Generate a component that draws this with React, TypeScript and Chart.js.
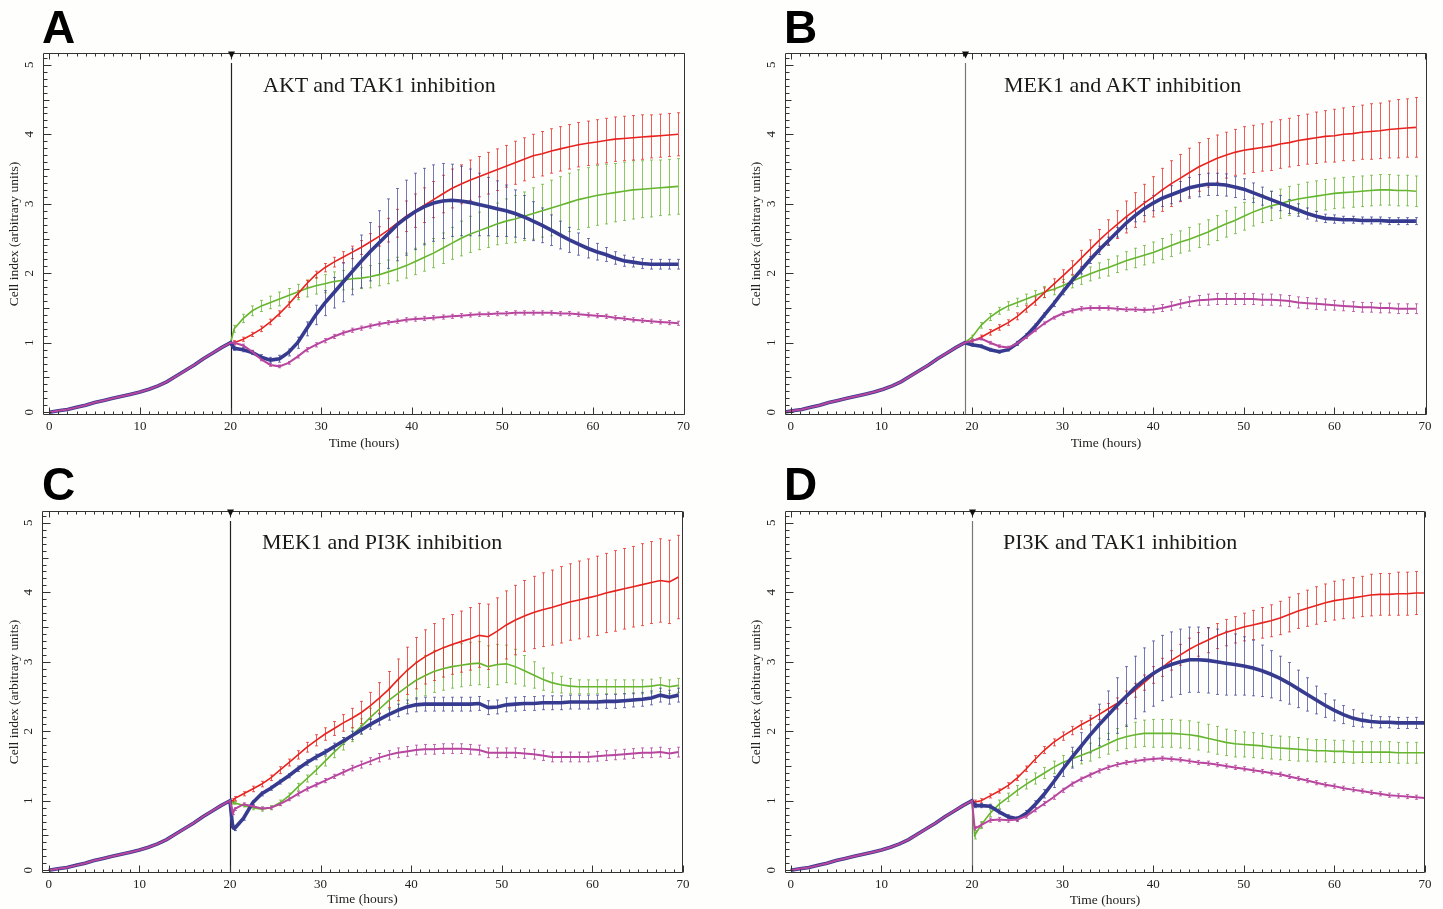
import React, { useEffect, useRef } from "react";
import { Chart, registerables } from "chart.js";
Chart.register(...registerables);

// ---------- axis ticks ----------
const xTickValues = [0, 10, 20, 30, 40, 50, 60, 70];
const yTickValues = [0, 1, 2, 3, 4, 5];

// ---------- time grids (hours) ----------
const hoursPre = [0, 1, 2, 3, 4, 5, 6, 7, 8, 9, 10, 11, 12, 13, 14, 15, 16, 17, 18, 19, 20];
const hoursPreB = [-0.8, 0.2, 1.2, 2.2, 3.2, 4.2, 5.2, 6.2, 7.2, 8.2, 9.2, 10.2, 11.2, 12.2, 13.2, 14.2, 15.2, 16.2, 17.2, 18.2, 19.2];
const hoursPostA = [
  20.4, 21.4, 22.4, 23.4, 24.4, 25.4, 26.4, 27.4, 28.4, 29.4,
  30.4, 31.4, 32.4, 33.4, 34.4, 35.4, 36.4, 37.4, 38.4, 39.4,
  40.4, 41.4, 42.4, 43.4, 44.4, 45.4, 46.4, 47.4, 48.4, 49.4,
  50.4, 51.4, 52.4, 53.4, 54.4, 55.4, 56.4, 57.4, 58.4, 59.4,
  60.4, 61.4, 62.4, 63.4, 64.4, 65.4, 66.4, 67.4, 68.4, 69.4,
];
const hoursPostB = [
  20, 21, 22, 23, 24, 25, 26, 27, 28, 29,
  30, 31, 32, 33, 34, 35, 36, 37, 38, 39,
  40, 41, 42, 43, 44, 45, 46, 47, 48, 49,
  50, 51, 52, 53, 54, 55, 56, 57, 58, 59,
  60, 61, 62, 63, 64, 65, 66, 67, 68, 69,
];
const hoursPostC = [
  20.3,
  20.5, 21.5, 22.5, 23.5, 24.5, 25.5, 26.5, 27.5, 28.5, 29.5,
  30.5, 31.5, 32.5, 33.5, 34.5, 35.5, 36.5, 37.5, 38.5, 39.5,
  40.5, 41.5, 42.5, 43.5, 44.5, 45.5, 46.5, 47.5, 48.5, 49.5,
  50.5, 51.5, 52.5, 53.5, 54.5, 55.5, 56.5, 57.5, 58.5, 59.5,
  60.5, 61.5, 62.5, 63.5, 64.5, 65.5, 66.5, 67.5, 68.5, 69.5,
];
const hoursPostD = [
  20.3,
  21, 22, 23, 24, 25, 26, 27, 28, 29, 30,
  31, 32, 33, 34, 35, 36, 37, 38, 39, 40,
  41, 42, 43, 44, 45, 46, 47, 48, 49, 50,
  51, 52, 53, 54, 55, 56, 57, 58, 59, 60,
  61, 62, 63, 64, 65, 66, 67, 68, 69, 70,
];

// ---------- common growth before treatment ----------
const preGrowth = [0.0, 0.02, 0.04, 0.07, 0.1, 0.14, 0.17, 0.2, 0.23, 0.26, 0.29, 0.33, 0.38, 0.44, 0.52, 0.6, 0.68, 0.77, 0.85, 0.93, 1.0];

// ---------- Panel A: AKT and TAK1 ----------
const redA = [1.0, 1.05, 1.12, 1.2, 1.3, 1.42, 1.55, 1.7, 1.85, 1.98, 2.08, 2.16, 2.23, 2.3, 2.37, 2.45, 2.53, 2.62, 2.72, 2.82, 2.9, 2.98, 3.06, 3.14, 3.22, 3.28, 3.34, 3.39, 3.44, 3.49, 3.54, 3.59, 3.64, 3.69, 3.72, 3.76, 3.79, 3.82, 3.85, 3.87, 3.89, 3.91, 3.93, 3.94, 3.95, 3.96, 3.97, 3.98, 3.99, 4.0];
const redAErr = [0.03, 0.03, 0.03, 0.04, 0.04, 0.04, 0.04, 0.05, 0.05, 0.05, 0.06, 0.07, 0.08, 0.09, 0.1, 0.12, 0.14, 0.17, 0.2, 0.22, 0.24, 0.25, 0.26, 0.27, 0.28, 0.28, 0.29, 0.29, 0.3, 0.3, 0.3, 0.31, 0.31, 0.31, 0.32, 0.32, 0.32, 0.32, 0.32, 0.32, 0.32, 0.32, 0.32, 0.32, 0.32, 0.32, 0.31, 0.31, 0.31, 0.31];
const greenA = [1.2, 1.35, 1.46, 1.53, 1.58, 1.63, 1.68, 1.73, 1.78, 1.82, 1.85, 1.88, 1.9, 1.92, 1.93, 1.95, 1.98, 2.02, 2.06, 2.11, 2.17, 2.23, 2.29, 2.36, 2.43, 2.5, 2.56, 2.61, 2.66, 2.71, 2.75, 2.78, 2.82, 2.86, 2.9, 2.94, 2.98, 3.02, 3.06, 3.09, 3.12, 3.14, 3.16, 3.18, 3.2, 3.21, 3.22, 3.23, 3.24, 3.25];
const greenAErr = [0.05, 0.06, 0.07, 0.08, 0.09, 0.1, 0.1, 0.11, 0.12, 0.12, 0.13, 0.14, 0.14, 0.15, 0.15, 0.16, 0.16, 0.17, 0.17, 0.18, 0.19, 0.2, 0.21, 0.22, 0.23, 0.25, 0.26, 0.27, 0.29, 0.3, 0.32, 0.34, 0.35, 0.37, 0.38, 0.4, 0.41, 0.42, 0.43, 0.43, 0.43, 0.43, 0.42, 0.42, 0.42, 0.41, 0.41, 0.4, 0.4, 0.4];
const blueA = [0.92, 0.9, 0.86, 0.79, 0.75, 0.77, 0.86, 1.0, 1.2, 1.4, 1.57, 1.72, 1.87, 2.02, 2.17, 2.31, 2.44, 2.57, 2.7, 2.8, 2.89, 2.96, 3.01, 3.04, 3.05, 3.04, 3.02, 2.99, 2.96, 2.93, 2.9, 2.86, 2.81, 2.75, 2.69, 2.62, 2.55, 2.48, 2.42, 2.36, 2.31, 2.27, 2.22, 2.18, 2.16, 2.14, 2.13, 2.13, 2.13, 2.13];
const blueAErr = [0.03, 0.03, 0.03, 0.04, 0.04, 0.05, 0.05, 0.08, 0.1, 0.14, 0.18, 0.22, 0.28, 0.33, 0.38, 0.42, 0.46, 0.5, 0.52, 0.54, 0.55, 0.55, 0.55, 0.54, 0.52, 0.5, 0.48, 0.45, 0.42, 0.4, 0.37, 0.34, 0.31, 0.28, 0.25, 0.22, 0.2, 0.18, 0.16, 0.14, 0.12, 0.1, 0.09, 0.08, 0.07, 0.07, 0.07, 0.07, 0.07, 0.07];
const magentaA = [1.0, 0.96, 0.87, 0.76, 0.68, 0.66, 0.71, 0.8, 0.9, 0.97, 1.03, 1.09, 1.14, 1.18, 1.21, 1.24, 1.27, 1.29, 1.31, 1.33, 1.34, 1.35, 1.36, 1.37, 1.38, 1.39, 1.4, 1.41, 1.41, 1.42, 1.42, 1.43, 1.43, 1.43, 1.43, 1.43, 1.42, 1.42, 1.41, 1.4, 1.39, 1.38, 1.36, 1.35, 1.33, 1.32, 1.31, 1.3, 1.29, 1.28];
const magentaAErr = [0.02, 0.02, 0.02, 0.02, 0.02, 0.02, 0.02, 0.02, 0.03, 0.03, 0.03, 0.03, 0.03, 0.03, 0.03, 0.03, 0.03, 0.03, 0.03, 0.03, 0.03, 0.03, 0.03, 0.03, 0.03, 0.03, 0.03, 0.03, 0.03, 0.03, 0.03, 0.03, 0.03, 0.03, 0.03, 0.03, 0.03, 0.03, 0.03, 0.03, 0.03, 0.03, 0.03, 0.03, 0.03, 0.03, 0.03, 0.03, 0.03, 0.03];

// ---------- Panel B: MEK1 and AKT ----------
const redB = [1.02, 1.08, 1.15, 1.22, 1.29, 1.38, 1.49, 1.6, 1.72, 1.84, 1.96, 2.08, 2.21, 2.34, 2.47, 2.59, 2.7, 2.81, 2.91, 3.01, 3.1, 3.2, 3.29, 3.37, 3.45, 3.53, 3.59, 3.65, 3.7, 3.74, 3.77, 3.79, 3.81, 3.83, 3.86, 3.88, 3.91, 3.93, 3.95, 3.97, 3.98, 4.0, 4.01, 4.03, 4.04, 4.05, 4.07, 4.08, 4.09, 4.1];
const redBErr = [0.03, 0.03, 0.04, 0.04, 0.04, 0.05, 0.05, 0.06, 0.07, 0.08, 0.09, 0.1, 0.12, 0.14, 0.16, 0.18, 0.2, 0.23, 0.25, 0.27, 0.29, 0.31, 0.33, 0.34, 0.35, 0.35, 0.35, 0.34, 0.33, 0.33, 0.34, 0.34, 0.34, 0.35, 0.35, 0.35, 0.36, 0.36, 0.37, 0.37, 0.38, 0.38, 0.39, 0.39, 0.4, 0.4, 0.41, 0.42, 0.42, 0.43];
const greenB = [1.08, 1.25, 1.37, 1.46, 1.53, 1.58, 1.63, 1.68, 1.73, 1.77, 1.82, 1.88, 1.94, 1.99, 2.04, 2.08, 2.13, 2.18, 2.22, 2.26, 2.3, 2.35, 2.4, 2.45, 2.49, 2.54, 2.59, 2.65, 2.71, 2.76, 2.82, 2.88, 2.93, 2.97, 3.0, 3.04, 3.07, 3.09, 3.11, 3.13, 3.15, 3.16, 3.17, 3.18, 3.19, 3.2, 3.2, 3.19, 3.19, 3.18];
const greenBErr = [0.03, 0.04, 0.05, 0.05, 0.06, 0.06, 0.07, 0.07, 0.08, 0.08, 0.09, 0.09, 0.1, 0.1, 0.11, 0.12, 0.12, 0.13, 0.14, 0.14, 0.15, 0.15, 0.16, 0.16, 0.17, 0.17, 0.18, 0.18, 0.19, 0.19, 0.2, 0.2, 0.2, 0.21, 0.21, 0.21, 0.21, 0.22, 0.22, 0.22, 0.22, 0.22, 0.22, 0.22, 0.22, 0.22, 0.22, 0.22, 0.22, 0.22];
const blueB = [0.97, 0.95, 0.9, 0.87, 0.9, 0.99, 1.1, 1.24, 1.4, 1.56, 1.73, 1.89, 2.04, 2.19, 2.33, 2.46, 2.59, 2.72, 2.83, 2.93, 3.01, 3.08, 3.13, 3.18, 3.23, 3.26, 3.28, 3.28, 3.27, 3.24, 3.21, 3.16, 3.11, 3.06, 3.01, 2.96, 2.91, 2.86, 2.82, 2.79, 2.78, 2.77, 2.77, 2.76, 2.76, 2.76, 2.75, 2.75, 2.75, 2.75];
const blueBErr = [0.02, 0.02, 0.02, 0.02, 0.02, 0.03, 0.03, 0.03, 0.03, 0.04, 0.04, 0.04, 0.05, 0.05, 0.06, 0.06, 0.07, 0.08, 0.09, 0.1, 0.11, 0.12, 0.13, 0.14, 0.15, 0.16, 0.16, 0.16, 0.16, 0.15, 0.15, 0.14, 0.13, 0.12, 0.11, 0.1, 0.09, 0.08, 0.07, 0.06, 0.06, 0.05, 0.05, 0.05, 0.05, 0.05, 0.05, 0.05, 0.05, 0.05];
const magentaB = [1.03, 1.06, 1.0, 0.95, 0.93, 0.99, 1.08, 1.18, 1.28, 1.36, 1.42, 1.46, 1.49, 1.5, 1.5, 1.5, 1.49, 1.48, 1.48, 1.47, 1.48, 1.5, 1.53, 1.56, 1.59, 1.61, 1.62, 1.63, 1.63, 1.63, 1.63, 1.63, 1.62, 1.62, 1.61, 1.6, 1.58, 1.57, 1.56, 1.55, 1.54, 1.53, 1.52, 1.51, 1.51, 1.5, 1.5, 1.49, 1.49, 1.49];
const magentaBErr = [0.02, 0.02, 0.02, 0.02, 0.02, 0.02, 0.02, 0.02, 0.02, 0.02, 0.03, 0.03, 0.03, 0.03, 0.03, 0.03, 0.03, 0.03, 0.03, 0.03, 0.05, 0.05, 0.06, 0.06, 0.07, 0.07, 0.08, 0.08, 0.08, 0.08, 0.08, 0.08, 0.08, 0.08, 0.08, 0.08, 0.08, 0.08, 0.08, 0.08, 0.07, 0.07, 0.07, 0.07, 0.07, 0.07, 0.07, 0.07, 0.07, 0.07];

// ---------- Panel C: MEK1 and PI3K ----------
const redC = [1.0, 1.03, 1.1, 1.17, 1.24, 1.33, 1.44, 1.55, 1.66, 1.77, 1.87, 1.96, 2.04, 2.12, 2.19, 2.27, 2.37, 2.48, 2.6, 2.74, 2.87, 2.98, 3.07, 3.14, 3.2, 3.25, 3.29, 3.33, 3.38, 3.36, 3.44, 3.53, 3.6, 3.66, 3.71, 3.75, 3.78, 3.82, 3.86, 3.89, 3.92, 3.95, 3.99, 4.02, 4.05, 4.08, 4.11, 4.14, 4.17, 4.15, 4.22];
const redCErr = [0.03, 0.03, 0.03, 0.04, 0.04, 0.04, 0.05, 0.05, 0.06, 0.07, 0.08, 0.09, 0.1, 0.12, 0.14, 0.16, 0.19, 0.22, 0.26, 0.3, 0.34, 0.37, 0.39, 0.41, 0.42, 0.43, 0.44, 0.45, 0.46, 0.47, 0.48, 0.49, 0.5, 0.51, 0.52, 0.53, 0.54, 0.55, 0.55, 0.56, 0.56, 0.57, 0.57, 0.58, 0.58, 0.58, 0.59, 0.59, 0.6, 0.6, 0.6];
const greenC = [0.97, 0.97, 0.93, 0.9, 0.88, 0.9, 0.97, 1.07, 1.2, 1.32, 1.44, 1.57, 1.7, 1.82, 1.95, 2.07, 2.2, 2.32, 2.44, 2.54, 2.64, 2.73, 2.8, 2.86, 2.9, 2.93, 2.95, 2.97, 2.98, 2.93, 2.96, 2.97, 2.93, 2.87, 2.81, 2.75, 2.7, 2.67, 2.65, 2.64, 2.64, 2.64, 2.64, 2.64, 2.64, 2.64, 2.64, 2.65, 2.67, 2.64, 2.66];
const greenCErr = [0.02, 0.02, 0.02, 0.03, 0.03, 0.03, 0.04, 0.04, 0.05, 0.05, 0.06, 0.07, 0.08, 0.09, 0.1, 0.11, 0.13, 0.15, 0.18, 0.21, 0.24, 0.27, 0.29, 0.3, 0.31, 0.31, 0.31, 0.31, 0.31, 0.3, 0.29, 0.27, 0.25, 0.22, 0.19, 0.16, 0.14, 0.12, 0.11, 0.1, 0.1, 0.1, 0.1, 0.1, 0.1, 0.1, 0.1, 0.1, 0.1, 0.1, 0.1];
const blueC = [0.62, 0.6, 0.75, 0.97, 1.1, 1.18, 1.27, 1.36, 1.46, 1.55, 1.63, 1.7, 1.78, 1.86, 1.94, 2.02, 2.1, 2.17, 2.24, 2.3, 2.35, 2.38, 2.39, 2.39, 2.39, 2.39, 2.39, 2.39, 2.4, 2.34, 2.35, 2.38, 2.39, 2.4, 2.4, 2.41, 2.41, 2.41, 2.42, 2.42, 2.42, 2.42, 2.43, 2.43, 2.44, 2.45, 2.46, 2.48, 2.52, 2.49, 2.52];
const blueCErr = [0.03, 0.03, 0.03, 0.03, 0.03, 0.03, 0.03, 0.03, 0.04, 0.04, 0.04, 0.04, 0.05, 0.05, 0.06, 0.06, 0.07, 0.08, 0.08, 0.09, 0.1, 0.1, 0.1, 0.1, 0.1, 0.1, 0.1, 0.1, 0.1, 0.1, 0.1, 0.1, 0.1, 0.1, 0.1, 0.1, 0.1, 0.1, 0.1, 0.1, 0.1, 0.1, 0.1, 0.1, 0.1, 0.1, 0.1, 0.1, 0.1, 0.1, 0.1];
const magentaC = [0.82, 0.88, 0.95, 0.92, 0.89, 0.9, 0.95, 1.02, 1.1, 1.17, 1.23, 1.29, 1.35, 1.41, 1.47, 1.52, 1.57, 1.62, 1.66, 1.69, 1.71, 1.73, 1.74, 1.74, 1.75, 1.75, 1.75, 1.74, 1.73, 1.69, 1.69, 1.69, 1.69, 1.68, 1.67, 1.65, 1.63, 1.63, 1.63, 1.63, 1.63, 1.64, 1.65, 1.66, 1.67, 1.68, 1.69, 1.69, 1.7, 1.68, 1.7];
const magentaCErr = [0.02, 0.02, 0.02, 0.02, 0.02, 0.02, 0.02, 0.02, 0.03, 0.03, 0.03, 0.03, 0.03, 0.04, 0.04, 0.05, 0.05, 0.06, 0.06, 0.07, 0.07, 0.07, 0.07, 0.07, 0.07, 0.07, 0.07, 0.07, 0.07, 0.07, 0.07, 0.07, 0.07, 0.07, 0.07, 0.07, 0.07, 0.07, 0.07, 0.07, 0.07, 0.07, 0.07, 0.07, 0.07, 0.07, 0.07, 0.07, 0.07, 0.07, 0.07];

// ---------- Panel D: PI3K and TAK1 ----------
const redD = [0.98, 1.0, 1.07, 1.14, 1.22, 1.33, 1.46, 1.6, 1.73, 1.84, 1.93, 2.01, 2.09, 2.16, 2.24, 2.32, 2.4, 2.49, 2.59, 2.7, 2.81, 2.92, 3.02, 3.1, 3.18, 3.25, 3.31, 3.37, 3.42, 3.46, 3.5, 3.53, 3.56, 3.59, 3.63, 3.68, 3.73, 3.77, 3.81, 3.85, 3.88, 3.9, 3.92, 3.94, 3.96, 3.97, 3.97, 3.98, 3.98, 3.99, 3.99];
const redDErr = [0.03, 0.03, 0.03, 0.03, 0.04, 0.04, 0.04, 0.05, 0.05, 0.05, 0.06, 0.06, 0.06, 0.07, 0.07, 0.08, 0.08, 0.09, 0.1, 0.11, 0.12, 0.13, 0.14, 0.15, 0.16, 0.17, 0.18, 0.18, 0.19, 0.19, 0.2, 0.21, 0.22, 0.23, 0.24, 0.25, 0.25, 0.26, 0.27, 0.27, 0.28, 0.28, 0.29, 0.29, 0.3, 0.3, 0.3, 0.31, 0.31, 0.31, 0.31];
const greenD = [0.5, 0.65, 0.82, 0.95, 1.05, 1.15, 1.24, 1.32, 1.4, 1.48, 1.55, 1.6, 1.65, 1.7, 1.76, 1.82, 1.88, 1.92, 1.95, 1.97, 1.97, 1.97, 1.97, 1.96, 1.95, 1.93, 1.9, 1.87, 1.84, 1.82, 1.81, 1.8, 1.79, 1.77, 1.76, 1.75, 1.74, 1.73, 1.72, 1.72, 1.71, 1.71, 1.7, 1.7, 1.7, 1.7, 1.7, 1.69, 1.69, 1.69, 1.69];
const greenDErr = [0.05, 0.05, 0.05, 0.06, 0.06, 0.07, 0.07, 0.08, 0.08, 0.09, 0.1, 0.11, 0.12, 0.13, 0.14, 0.15, 0.16, 0.17, 0.18, 0.19, 0.2, 0.2, 0.2, 0.2, 0.2, 0.2, 0.2, 0.2, 0.19, 0.19, 0.18, 0.18, 0.18, 0.17, 0.17, 0.17, 0.17, 0.16, 0.16, 0.16, 0.16, 0.16, 0.16, 0.15, 0.15, 0.15, 0.15, 0.15, 0.15, 0.15, 0.15];
const blueD = [0.93, 0.93, 0.92, 0.84, 0.77, 0.74, 0.82, 0.95, 1.1, 1.27, 1.45, 1.62, 1.78, 1.94, 2.09, 2.23, 2.37, 2.5, 2.63, 2.74, 2.83, 2.91, 2.96, 3.0, 3.03, 3.03, 3.02, 3.0, 2.98, 2.96, 2.94, 2.91, 2.87, 2.82, 2.76, 2.69, 2.61, 2.53, 2.45, 2.37, 2.3, 2.24, 2.19, 2.16, 2.14, 2.13, 2.13, 2.12, 2.12, 2.12, 2.12];
const blueDErr = [0.03, 0.03, 0.03, 0.03, 0.03, 0.03, 0.04, 0.05, 0.06, 0.08, 0.1, 0.15, 0.2, 0.25, 0.3, 0.35, 0.4, 0.43, 0.45, 0.46, 0.47, 0.47, 0.47, 0.47, 0.47, 0.47, 0.47, 0.47, 0.46, 0.44, 0.42, 0.4, 0.37, 0.34, 0.32, 0.3, 0.27, 0.24, 0.2, 0.17, 0.15, 0.13, 0.12, 0.1, 0.09, 0.08, 0.08, 0.08, 0.08, 0.08, 0.08];
const magentaD = [0.6, 0.65, 0.72, 0.73, 0.72, 0.73, 0.78, 0.87, 0.96, 1.05, 1.15, 1.24, 1.31, 1.37, 1.43, 1.48, 1.52, 1.55, 1.57, 1.59, 1.6, 1.61, 1.6, 1.59, 1.57, 1.55, 1.54, 1.52, 1.5, 1.48, 1.46, 1.44, 1.42, 1.4, 1.38, 1.35, 1.32, 1.29, 1.26, 1.23, 1.21, 1.18, 1.16, 1.14, 1.12, 1.1, 1.08, 1.07, 1.06, 1.05, 1.04];
const magentaDErr = [0.03, 0.03, 0.03, 0.03, 0.03, 0.03, 0.03, 0.03, 0.03, 0.03, 0.03, 0.03, 0.03, 0.03, 0.03, 0.03, 0.03, 0.03, 0.03, 0.03, 0.03, 0.03, 0.03, 0.03, 0.03, 0.03, 0.03, 0.03, 0.03, 0.03, 0.03, 0.03, 0.03, 0.03, 0.03, 0.03, 0.03, 0.03, 0.03, 0.03, 0.03, 0.03, 0.03, 0.03, 0.03, 0.03, 0.03, 0.03, 0.03, 0.03, 0.03];

// ---------- styles ----------
const RED = { line: "#e8231f", bar: "rgba(232,40,36,0.75)", width: 1.6 };
const GREEN = { line: "#66b52e", bar: "rgba(104,180,50,0.75)", width: 1.6 };
const BLUE = { line: "#363b8f", bar: "rgba(60,64,150,0.7)", width: 3.6 };
const MAGENTA = { line: "#b8469f", bar: "rgba(184,70,160,0.8)", width: 2 };

const SERIF = '"Liberation Serif", "Times New Roman", serif';
const SANS = '"Liberation Sans", Arial, sans-serif';
const BG = "#fefefc";

type Series = { style: typeof RED; post: number[]; err: number[] };
type PanelCfg = {
  id: string;
  title: string;
  canvas: { left: number; top: number; w: number; h: number };
  pad: { left: number; right: number; top: number; bottom: number };
  yWidth: number;
  xHeight: number;
  xMin: number;
  xMax: number;
  treat: number;
  treatColor: string;
  xTitlePad: number;
  pre: number[];
  post: number[];
  series: Series[];
  letterPos: { left: number; top: number };
  titlePos: { left: number; top: number };
};

const panels: PanelCfg[] = [
  {
    id: "A", title: "AKT and TAK1 inhibition",
    canvas: { left: 0, top: 0, w: 722, h: 455 },
    pad: { left: 0, right: 37, top: 53, bottom: 0 }, yWidth: 43, xHeight: 40,
    xMin: -0.7, xMax: 70.16, treat: 20, treatColor: "#222", xTitlePad: 3,
    pre: hoursPre, post: hoursPostA,
    series: [
      { style: MAGENTA, post: magentaA, err: magentaAErr },
      { style: BLUE, post: blueA, err: blueAErr },
      { style: RED, post: redA, err: redAErr },
      { style: GREEN, post: greenA, err: greenAErr },
    ],
    letterPos: { left: 42, top: 4 }, titlePos: { left: 263, top: 74 },
  },
  {
    id: "B", title: "MEK1 and AKT inhibition",
    canvas: { left: 722, top: 0, w: 721, h: 455 },
    pad: { left: 20, right: 16, top: 53, bottom: 0 }, yWidth: 43, xHeight: 40,
    xMin: -0.64, xMax: 70.22, treat: 19.2, treatColor: "#777", xTitlePad: 3,
    pre: hoursPreB, post: hoursPostB,
    series: [
      { style: MAGENTA, post: magentaB, err: magentaBErr },
      { style: BLUE, post: blueB, err: blueBErr },
      { style: RED, post: redB, err: redBErr },
      { style: GREEN, post: greenB, err: greenBErr },
    ],
    letterPos: { left: 784, top: 4 }, titlePos: { left: 1004, top: 74 },
  },
  {
    id: "C", title: "MEK1 and PI3K inhibition",
    canvas: { left: 0, top: 455, w: 722, h: 454 },
    pad: { left: 0, right: 39, top: 56, bottom: 0 }, yWidth: 42, xHeight: 36,
    xMin: -0.75, xMax: 70.0, treat: 20, treatColor: "#222", xTitlePad: 1,
    pre: hoursPre, post: hoursPostC,
    series: [
      { style: MAGENTA, post: magentaC, err: magentaCErr },
      { style: BLUE, post: blueC, err: blueCErr },
      { style: RED, post: redC, err: redCErr },
      { style: GREEN, post: greenC, err: greenCErr },
    ],
    letterPos: { left: 42, top: 461 }, titlePos: { left: 262, top: 531 },
  },
  {
    id: "D", title: "PI3K and TAK1 inhibition",
    canvas: { left: 722, top: 455, w: 721, h: 454 },
    pad: { left: 20, right: 18, top: 56, bottom: 0 }, yWidth: 43, xHeight: 36,
    xMin: -0.64, xMax: 70.0, treat: 20, treatColor: "#777", xTitlePad: 0,
    pre: hoursPre, post: hoursPostD,
    series: [
      { style: MAGENTA, post: magentaD, err: magentaDErr },
      { style: BLUE, post: blueD, err: blueDErr },
      { style: RED, post: redD, err: redDErr },
      { style: GREEN, post: greenD, err: greenDErr },
    ],
    letterPos: { left: 784, top: 461 }, titlePos: { left: 1003, top: 531 },
  },
];

function decorPlugin(cfg: PanelCfg) {
  return {
    id: "decor" + cfg.id,
    beforeDatasetsDraw(chart: any) {
      const { ctx, chartArea } = chart;
      const xs = chart.scales.x;
      const ys = chart.scales.y;
      ctx.save();
      ctx.beginPath();
      ctx.rect(chartArea.left, chartArea.top, chartArea.right - chartArea.left, chartArea.bottom - chartArea.top);
      ctx.clip();
      // treatment line
      const tx = Math.round(xs.getPixelForValue(cfg.treat)) + 0.5;
      ctx.strokeStyle = cfg.treatColor;
      ctx.lineWidth = 1.2;
      ctx.beginPath();
      ctx.moveTo(tx, chartArea.top + 10);
      ctx.lineTo(tx, chartArea.bottom);
      ctx.stroke();
      // error bars (drawn in reverse dataset order: green, red, blue, magenta)
      const order = [...cfg.series].reverse();
      for (const s of order) {
        ctx.strokeStyle = s.style.bar;
        ctx.lineWidth = 1;
        s.post.forEach((v, j) => {
          const e = s.err[j];
          const x = Math.round(xs.getPixelForValue(cfg.post[j])) + 0.5;
          const y1 = ys.getPixelForValue(v + e);
          const y2 = ys.getPixelForValue(v - e);
          ctx.beginPath();
          ctx.moveTo(x, y1);
          ctx.lineTo(x, y2);
          ctx.moveTo(x - 1.5, y1);
          ctx.lineTo(x + 1.5, y1);
          ctx.moveTo(x - 1.5, y2);
          ctx.lineTo(x + 1.5, y2);
          ctx.stroke();
        });
      }
      ctx.restore();
    },
    afterDraw(chart: any) {
      const { ctx, chartArea } = chart;
      const { left, right, top, bottom } = chartArea;
      const xs = chart.scales.x;
      const ys = chart.scales.y;
      ctx.save();
      ctx.strokeStyle = "#333";
      ctx.lineWidth = 1;
      const L = Math.round(left) + 0.5;
      const R = Math.round(right) - 0.5;
      const T = Math.round(top) + 0.5;
      const B = Math.round(bottom) - 0.5;
      ctx.beginPath();
      ctx.moveTo(L, T);
      ctx.lineTo(R, T);
      ctx.lineTo(R, B);
      ctx.lineTo(L, B);
      ctx.closePath();
      ctx.stroke();
      // x minor/major ticks (bottom and top, inward)
      ctx.beginPath();
      for (let h = Math.ceil(xs.min); h <= Math.floor(xs.max); h++) {
        const px = Math.round(xs.getPixelForValue(h)) + 0.5;
        const major = h % 10 === 0;
        const len = major ? 7 : 3;
        ctx.moveTo(px, B);
        ctx.lineTo(px, B - len);
        ctx.moveTo(px, T);
        ctx.lineTo(px, T + (major ? 6 : 3));
      }
      // y ticks (left, inward)
      for (let k = 0; k <= 51; k++) {
        const v = k / 10;
        if (v > ys.max) break;
        const py = Math.round(ys.getPixelForValue(v)) + 0.5;
        const len = k % 10 === 0 ? 8 : k % 5 === 0 ? 6 : 4;
        ctx.moveTo(L, py);
        ctx.lineTo(L + len, py);
      }
      ctx.stroke();
      // treatment marker triangle
      const tx = Math.round(xs.getPixelForValue(cfg.treat)) + 0.5;
      ctx.fillStyle = "#111";
      ctx.beginPath();
      ctx.moveTo(tx - 3.5, T - 2);
      ctx.lineTo(tx + 3.5, T - 2);
      ctx.lineTo(tx, T + 5);
      ctx.closePath();
      ctx.fill();
      ctx.restore();
    },
  };
}

function Panel({ cfg }: { cfg: PanelCfg }) {
  const ref = useRef<HTMLCanvasElement>(null);
  useEffect(() => {
    const canvas = ref.current;
    if (!canvas) return;
    const datasets = cfg.series.map((s) => ({
      data: [
        ...cfg.pre.map((t, i) => ({ x: t, y: preGrowth[i] })),
        ...cfg.post.map((t, j) => ({ x: t, y: s.post[j] })),
      ],
      borderColor: s.style.line,
      backgroundColor: s.style.line,
      borderWidth: s.style.width,
      pointRadius: 0,
      tension: 0,
      fill: false,
    }));
    const chart = new Chart(canvas, {
      type: "line",
      data: { datasets },
      options: {
        animation: false,
        responsive: false,
        devicePixelRatio: 1,
        layout: { padding: cfg.pad },
        plugins: { legend: { display: false }, tooltip: { enabled: false } },
        scales: {
          x: {
            type: "linear",
            min: cfg.xMin,
            max: cfg.xMax,
            afterBuildTicks: (s: any) => {
              s.ticks = xTickValues.map((v) => ({ value: v }));
            },
            afterFit: (s: any) => {
              s.height = cfg.xHeight;
            },
            grid: { display: false, drawTicks: false, tickLength: 0 },
            border: { display: false },
            ticks: {
              font: { family: "Liberation Serif", size: 13 },
              color: "#222",
              padding: 4,
              maxRotation: 0,
              autoSkip: false,
            },
            title: {
              display: true,
              text: "Time (hours)",
              font: { family: "Liberation Serif", size: 13.5 },
              color: "#222",
              padding: { top: 0, bottom: cfg.xTitlePad },
            },
          },
          y: {
            type: "linear",
            min: -0.04,
            max: 5.17,
            afterBuildTicks: (s: any) => {
              s.ticks = yTickValues.map((v) => ({ value: v }));
            },
            afterFit: (s: any) => {
              s.width = cfg.yWidth;
            },
            grid: { display: false, drawTicks: false, tickLength: 0 },
            border: { display: false },
            ticks: {
              font: { family: "Liberation Serif", size: 13 },
              color: "#222",
              padding: 10,
              minRotation: 90,
              maxRotation: 90,
              crossAlign: "center",
            },
            title: {
              display: true,
              text: "Cell index (arbitrary units)",
              font: { family: "Liberation Serif", size: 13.5 },
              color: "#222",
              padding: { top: 6, bottom: 0 },
            },
          },
        },
      } as any,
      plugins: [decorPlugin(cfg)],
    });
    return () => chart.destroy();
  }, [cfg]);

  return (
    <>
      <canvas
        ref={ref}
        width={cfg.canvas.w}
        height={cfg.canvas.h}
        style={{
          position: "absolute",
          left: cfg.canvas.left,
          top: cfg.canvas.top,
          width: cfg.canvas.w,
          height: cfg.canvas.h,
        }}
      />
      <div
        style={{
          position: "absolute",
          left: cfg.letterPos.left,
          top: cfg.letterPos.top,
          font: `bold 46px ${SANS}`,
          lineHeight: "46px",
          color: "#000",
        }}
      >
        {cfg.id}
      </div>
      <div
        style={{
          position: "absolute",
          left: cfg.titlePos.left,
          top: cfg.titlePos.top,
          font: `22px ${SERIF}`,
          lineHeight: "22px",
          color: "#1a1a1a",
          whiteSpace: "nowrap",
        }}
      >
        {cfg.title}
      </div>
    </>
  );
}

export default function App() {
  return (
    <div
      style={{
        position: "fixed",
        left: 0,
        top: 0,
        width: 1443,
        height: 909,
        background: BG,
        overflow: "hidden",
      }}
    >
      {panels.map((p) => (
        <Panel key={p.id} cfg={p} />
      ))}
    </div>
  );
}
